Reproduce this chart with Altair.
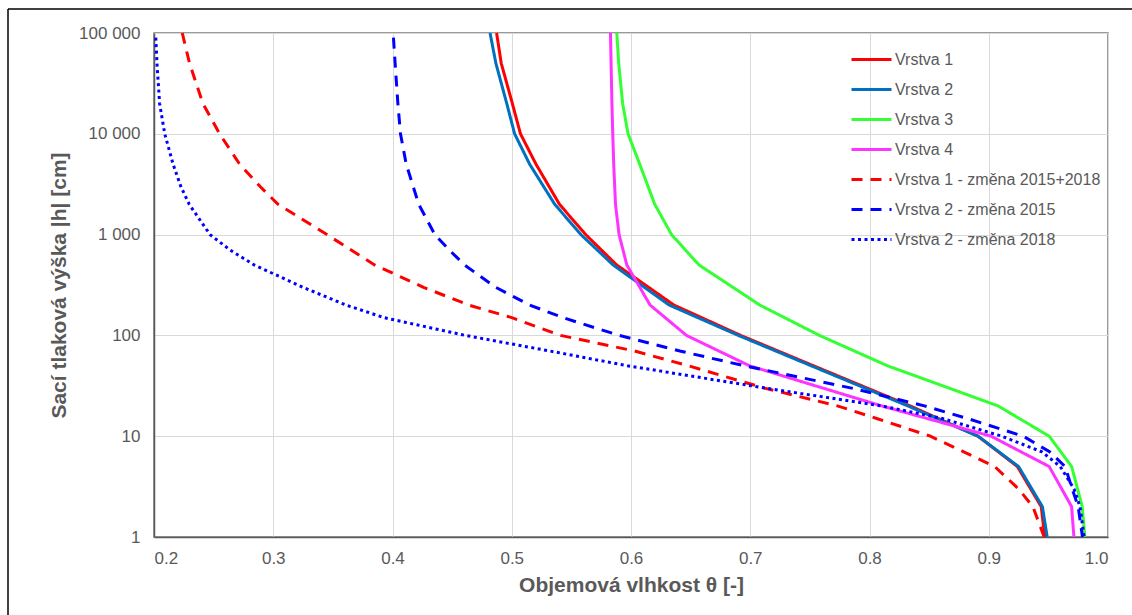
import altair as alt
import pandas as pd

series_names = ["Vrstva 1", "Vrstva 2", "Vrstva 3", "Vrstva 4",
                "Vrstva 1 - změna 2015+2018", "Vrstva 2 - změna 2015",
                "Vrstva 2 - změna 2018"]
series_colors = ["#FF0000", "#0070C0", "#33FF33", "#FF33FF",
                 "#FF0000", "#0000FF", "#0000FF"]
series_dashes = [[1, 0], [1, 0], [1, 0], [1, 0], [11, 8], [11, 8], [3, 3.5]]

# suction head |h| [cm] for the layer curves
h_layers = [100000, 50000, 20000, 10000, 5000, 2000, 1000, 500, 200, 100,
            50, 20, 10, 5, 2, 1]
theta_v1 = [0.4873, 0.4912, 0.5005, 0.5073, 0.5203, 0.540, 0.562, 0.588,
            0.636, 0.692, 0.753, 0.834, 0.891, 0.924, 0.944, 0.947]
theta_v2 = [0.4818, 0.4867, 0.4958, 0.5024, 0.515, 0.536, 0.558, 0.585,
            0.632, 0.690, 0.751, 0.832, 0.891, 0.925, 0.945, 0.949]
theta_v3 = [0.5881, 0.5897, 0.593, 0.5975, 0.6073, 0.6199, 0.634, 0.657,
            0.708, 0.758, 0.815, 0.9077, 0.9507, 0.9695, 0.9784, 0.9806]
theta_v4 = [0.5828, 0.5833, 0.584, 0.5847, 0.5855, 0.587, 0.5900, 0.5965,
            0.616, 0.6465, 0.6993, 0.81, 0.902, 0.9507, 0.9695, 0.9714]

# Vrstva 1 - změna 2015+2018
h_rd = [100000, 50000, 20000, 10000, 5000, 3000, 2000, 1000, 500, 300, 200,
        150, 100, 70, 50, 30, 20, 15, 10, 7, 5, 3, 2, 1]
theta_rd = [0.2237, 0.2298, 0.241, 0.255, 0.2718, 0.289, 0.304, 0.345,
            0.385, 0.426, 0.464, 0.500, 0.541, 0.603, 0.648, 0.712, 0.773,
            0.806, 0.851, 0.879, 0.905, 0.925, 0.937, 0.9465]

# Vrstva 2 - změna 2015
h_bd = [90000, 50000, 20000, 10000, 5000, 2000, 1000, 700, 500, 300, 200,
        150, 100, 70, 50, 30, 20, 15, 10, 7, 5, 3, 2, 1]
theta_bd = [0.4008, 0.4022, 0.4045, 0.4067, 0.4115, 0.422, 0.4355, 0.4478,
            0.4604, 0.4865, 0.515, 0.543, 0.590, 0.641, 0.695, 0.785, 0.846,
            0.882, 0.929, 0.951, 0.964, 0.970, 0.975, 0.9786]

# Vrstva 2 - změna 2018
h_bt = [90000, 50000, 20000, 10000, 5000, 3000, 2000, 1000, 700, 500, 300,
        200, 150, 100, 70, 50, 30, 20, 15, 10, 7, 5, 3, 2, 1]
theta_bt = [0.2015, 0.2025, 0.2047, 0.209, 0.216, 0.2225, 0.2295, 0.247,
            0.264, 0.284, 0.325, 0.361, 0.393, 0.461, 0.532, 0.597, 0.713,
            0.81, 0.861, 0.911, 0.9445, 0.960, 0.9715, 0.9765, 0.980]

x_ticks = [0.2, 0.3, 0.4, 0.5, 0.6, 0.7, 0.8, 0.9, 1.0]
y_ticks = [1, 10, 100, 1000, 10000, 100000]
y_labels = ["1", "10", "100", "1 000", "10 000", "100 000"]

curves = [
    (series_names[0], h_layers, theta_v1),
    (series_names[1], h_layers, theta_v2),
    (series_names[2], h_layers, theta_v3),
    (series_names[3], h_layers, theta_v4),
    (series_names[4], h_rd, theta_rd),
    (series_names[5], h_bd, theta_bd),
    (series_names[6], h_bt, theta_bt),
]
rows = []
for name, hs, ths in curves:
    for h, t in zip(hs, ths):
        rows.append({"series": name, "h": h, "theta": t})
df = pd.DataFrame(rows)

label_expr = "'' "
for v, lab in zip(y_ticks, y_labels):
    label_expr = f"datum.value == {v} ? '{lab}' : (" + label_expr + ")"

FONT = "Liberation Sans"
GRAY = "#595959"

leg = alt.Legend(title=None, orient="none", legendX=696, legendY=5,
                 symbolType="stroke", symbolSize=1600, symbolStrokeWidth=3,
                 labelFontSize=16, labelColor=GRAY, labelFont=FONT,
                 labelOffset=2, rowPadding=0, labelLimit=400)

lines = alt.Chart(df).mark_line(strokeWidth=3, strokeCap="butt").encode(
    x=alt.X("theta:Q",
            scale=alt.Scale(domain=[0.2, 1.0], nice=False, zero=False),
            axis=alt.Axis(values=x_ticks, format=".1f",
                          title="Objemová vlhkost θ [-]")),
    y=alt.Y("h:Q",
            scale=alt.Scale(type="log", domain=[1, 100000], nice=False),
            axis=alt.Axis(values=y_ticks, labelExpr=label_expr,
                          title="Sací tlaková výška |h| [cm]")),
    color=alt.Color("series:N",
                    scale=alt.Scale(domain=series_names, range=series_colors),
                    legend=leg),
    strokeDash=alt.StrokeDash("series:N",
                              scale=alt.Scale(domain=series_names,
                                              range=series_dashes),
                              legend=leg),
    order=alt.Order("h:Q", sort="descending"),
)

frame_df = pd.DataFrame({"k": [0]})
frame_left = alt.Chart(frame_df).mark_rule(color="#000000", strokeWidth=1.5).encode(
    x=alt.value(-146), y=alt.value(-24), y2=alt.value(620))
frame_top = alt.Chart(frame_df).mark_rule(color="#000000", strokeWidth=1.5).encode(
    x=alt.value(-146), x2=alt.value(1000), y=alt.value(-24))

chart = alt.layer(lines, frame_left, frame_top).properties(
    width=954, height=504,
    autosize=alt.AutoSizeParams(type="none"),
    padding={"left": 154, "top": 33, "right": 24, "bottom": 78},
    background="white",
).configure_view(
    stroke="#7a7a7a", strokeWidth=1.5
).configure_axis(
    grid=True, gridColor="#D9D9D9", gridWidth=1,
    ticks=False, domainColor=GRAY, domainWidth=1.5,
    labelFont=FONT, labelFontSize=17, labelColor=GRAY,
    titleFont=FONT, titleFontSize=21, titleFontWeight="bold", titleColor=GRAY,
).configure_axisX(
    labelPadding=13, titlePadding=8
).configure_axisY(
    labelPadding=14, titlePadding=9
)

chart.save("out.html", embed_options={"renderer": "svg", "actions": False})
